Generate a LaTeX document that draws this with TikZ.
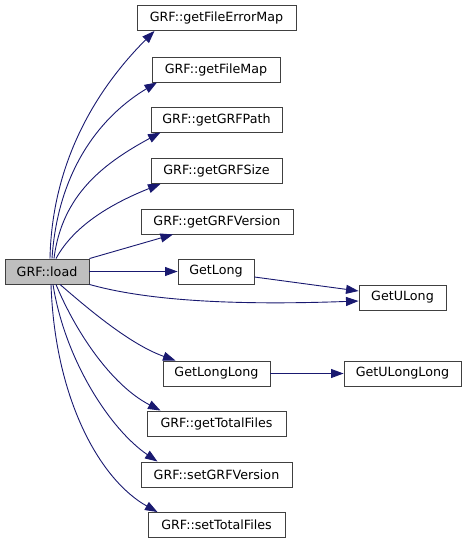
\documentclass[tikz,border=0pt]{standalone}
\usepackage{fontspec}
\setmainfont{DejaVu Sans}
\usetikzlibrary{arrows.meta}
\definecolor{edgeblue}{HTML}{191970}
\definecolor{boxborder}{HTML}{404040}
\definecolor{curfill}{HTML}{BFBFBF}
\begin{document}
\begin{tikzpicture}[x=1pt,y=-1pt,
  fn/.style={draw=boxborder,line width=0.9pt,fill=white,inner sep=0pt,minimum height=25pt,
    font=\fontsize{12.7}{15}\selectfont},
  cur/.style={fn,fill=curfill},
  call/.style={draw=edgeblue,line width=0.9pt,-{Triangle[length=12.5pt,width=9pt,fill=edgeblue]}}]
\useasboundingbox (0,0) rectangle (467,544);
\node[cur,minimum width=84pt] (load) at (47,271.5) {GRF::load};
\node[fn,minimum width=159pt] (fem) at (216.5,18) {GRF::getFileErrorMap};
\node[fn,minimum width=128pt] (fm) at (216,69.5) {GRF::getFileMap};
\node[fn,minimum width=131pt] (gp) at (216.5,119.5) {GRF::getGRFPath};
\node[fn,minimum width=131pt] (gs) at (216.5,171) {GRF::getGRFSize};
\node[fn,minimum width=152pt] (gv) at (217,221.5) {GRF::getGRFVersion};
\node[fn,minimum width=76pt] (gl) at (216,271.5) {GetLong};
\node[fn,minimum width=87pt] (gul) at (402.5,297.5) {GetULong};
\node[fn,minimum width=107pt] (gll) at (216.5,373.5) {GetLongLong};
\node[fn,minimum width=117pt] (gull) at (402.5,373.5) {GetULongLong};
\node[fn,minimum width=139pt] (tf) at (216.5,423.5) {GRF::getTotalFiles};
\node[fn,minimum width=151pt] (sv) at (216.5,474.5) {GRF::setGRFVersion};
\node[fn,minimum width=137pt] (st) at (216.5,525) {GRF::setTotalFiles};
% edges
\draw[call] ([xshift=3pt]load.north) .. controls +(2,-100) and +(-55,55) .. ([xshift=-62pt]fem.south);
\draw[call] ([xshift=5pt]load.north) .. controls +(6,-90) and +(-55,33) .. ([xshift=-59pt]fm.south);
\draw[call] ([xshift=7pt]load.north) .. controls +(8,-65) and +(-55,30) .. ([xshift=-56pt]gp.south);
\draw[call] ([xshift=9pt]load.north) .. controls +(19,-35) and +(-45,18) .. ([xshift=-56pt]gs.south);
\draw[call] (load.north east) -- ([xshift=-44pt]gv.south);
\draw[call] (load.east) -- (gl.west);
\draw[call] (load.south east) .. controls +(64,18) and +(-110,4) .. ([yshift=-3.5pt]gul.west);
\draw[call] ([yshift=-5.5pt]gl.east) -- ([yshift=6.5pt]gul.west);
\draw[call] ([xshift=13pt]load.south) .. controls +(30,26) and +(-45,-16) .. ([xshift=-41pt]gll.north);
\draw[call] ([xshift=9pt]load.south) .. controls +(19,46) and +(-50,-26) .. ([xshift=-56pt]tf.north);
\draw[call] ([xshift=6pt]load.south) .. controls +(12,76) and +(-47,-32) .. ([xshift=-59pt]sv.north);
\draw[call] ([xshift=4pt]load.south) .. controls +(4,116) and +(-57,-32) .. ([xshift=-59pt]st.north);
\draw[call] (gll.east) -- (gull.west);
\end{tikzpicture}
\end{document}
